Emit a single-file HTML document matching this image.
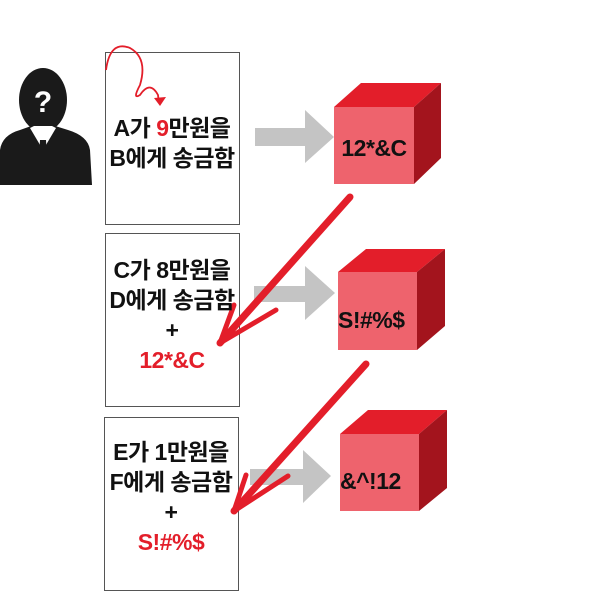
<!DOCTYPE html>
<html><head><meta charset="utf-8"><style>
body{margin:0;width:600px;height:600px;background:#fff;overflow:hidden;position:relative;font-family:"Liberation Sans","Noto Sans CJK KR",sans-serif}
.t{position:absolute;font-weight:bold;font-size:23px;color:#111;text-align:center;letter-spacing:-0.5px;line-height:30px;white-space:nowrap}
.r{color:#e31e2a}
</style></head><body>
<svg width="600" height="600" style="position:absolute;left:0;top:0">
<rect x="105.5" y="52.5" width="134" height="172" fill="#fff" stroke="#555"/>
<rect x="105.5" y="233.5" width="134" height="173" fill="#fff" stroke="#555"/>
<rect x="104.5" y="417.5" width="134" height="173" fill="#fff" stroke="#555"/>
<g fill="#1a1a1a">
<ellipse cx="43" cy="100" rx="24" ry="32"/>
<path d="M0,150 Q2,135 20,130 L34,125 L52,125 L68,130 Q88,136 90,150 L92,185 L0,185 Z"/>
</g>
<path d="M30,128 L43,150 L56,128 L52,126 L34,126Z" fill="#fff"/>
<path d="M40,140 L46,140 L48,180 L43,185 L38,180Z" fill="#1a1a1a"/>
<text x="43" y="112" font-size="30" font-weight="bold" fill="#fff" text-anchor="middle" font-family="Liberation Sans">?</text>
<path d="M106,70 Q110,40 130,48 Q148,58 140,85 Q132,100 140,95 Q150,80 158,95 L159,103" fill="none" stroke="#e31e2a" stroke-width="1.8"/>
<path d="M154,98 L166,97 L160,106Z" fill="#e31e2a"/>
<g fill="#c4c4c4">
<path d="M255,128 L305,128 L305,110 L334,137 L305,163 L305,146 L255,146Z"/>
<path d="M254,286 L305,286 L305,266 L335,293 L305,320 L305,302 L254,302Z"/>
<path d="M250,469 L303,469 L303,450 L331,476 L303,503 L303,485 L250,485Z"/>
</g>
<polygon points="334,107 361,83 441,83 414,107" fill="#e31e2a"/>
<polygon points="414,107 441,83 441,158 414,184" fill="#a3141d"/>
<rect x="334" y="107" width="80" height="77" fill="#ee636d"/>
<polygon points="338,272 366,249 445,249 417,272" fill="#e31e2a"/>
<polygon points="417,272 445,249 445,326 417,350" fill="#a3141d"/>
<rect x="338" y="272" width="79" height="78" fill="#ee636d"/>
<polygon points="340,434 368,410 447,410 419,434" fill="#e31e2a"/>
<polygon points="419,434 447,410 447,488 419,511" fill="#a3141d"/>
<rect x="340" y="434" width="79" height="77" fill="#ee636d"/>
<g stroke="#e31e2a" stroke-linecap="round" fill="none">
<path d="M350,197 L220,343" stroke-width="7"/>
<path d="M220,343 L234,305" stroke-width="5"/>
<path d="M220,343 L276,310" stroke-width="5"/>
<path d="M366,364 L234,511" stroke-width="7"/>
<path d="M234,511 L246,475" stroke-width="5"/>
<path d="M234,511 L288,476" stroke-width="5"/>
</g>
</svg>
<div class="t" style="left:105px;top:113px;width:134px">A가 <span class="r">9</span>만원을<br>B에게 송금함</div>
<div class="t" style="left:105px;top:255px;width:134px">C가 8만원을<br>D에게 송금함<br>+<br><span class="r">12*&amp;C</span></div>
<div class="t" style="left:104px;top:437px;width:134px">E가 1만원을<br>F에게 송금함<br>+<br><span class="r">S!#%$</span></div>
<div class="t" style="left:334px;top:133px;width:80px;font-size:23px">12*&amp;C</div>
<div class="t" style="left:338px;top:305px;width:79px;font-size:23px;text-align:left">S!#%$</div>
<div class="t" style="left:340px;top:466px;width:79px;font-size:23px;text-align:left">&amp;^!12</div>
</body></html>
